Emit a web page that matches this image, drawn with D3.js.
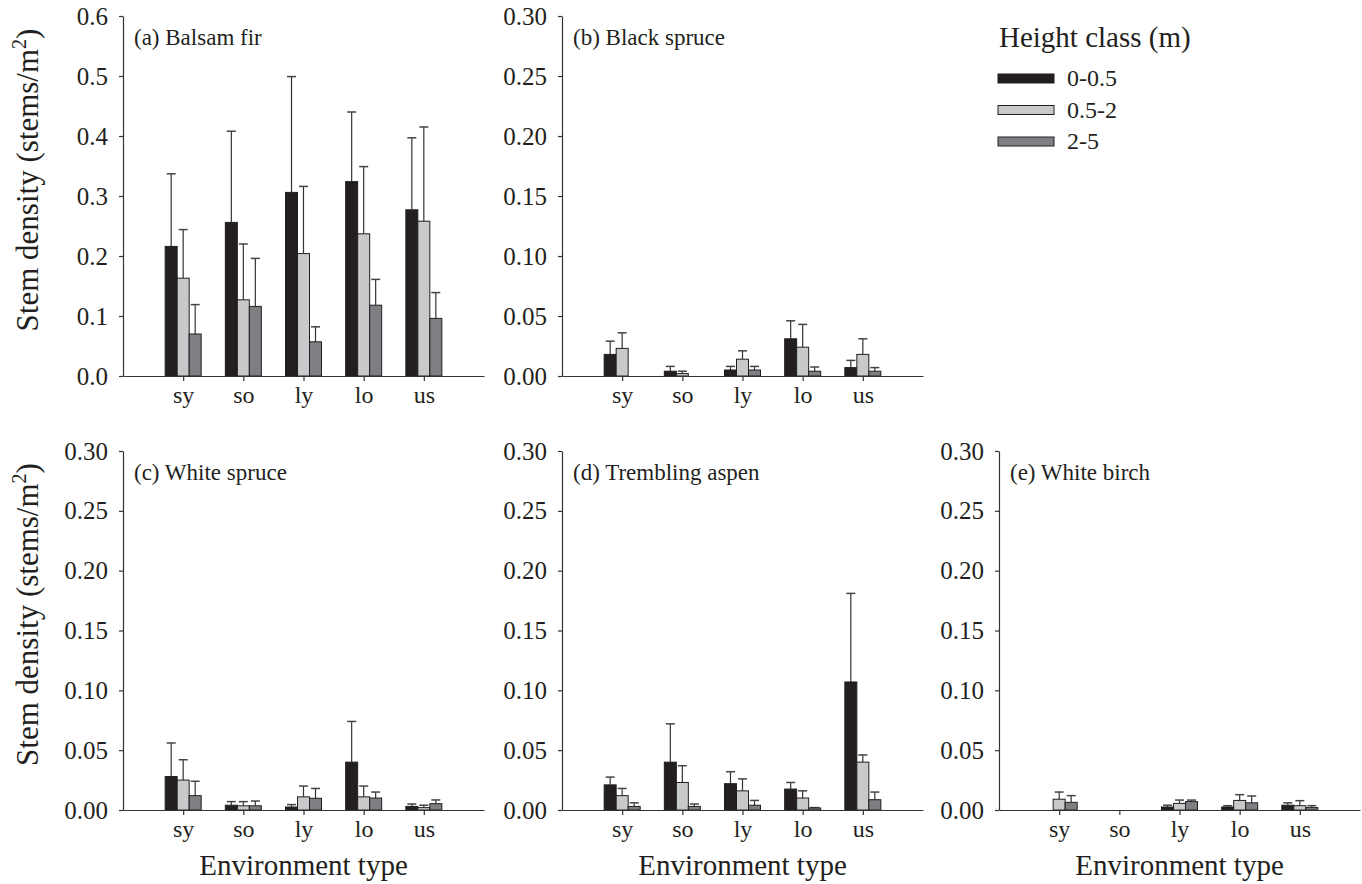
<!DOCTYPE html>
<html lang='en'>
<head>
  <meta charset='UTF-8'>
  <title>Stem density</title>
  <script src="https://d3js.org/d3.v7.min.js"></script>
  <style>
    body { margin: 0; background: #fff; }
    text { font-family: 'Liberation Serif', 'Times New Roman', serif; }
    .axis path, .axis line { stroke: #333; stroke-width: 1.2; }
    .axis text { fill: #231f20; }
  </style>
</head>
<body>
  <div id="chart"></div>
  <script>
    const categories = ['sy', 'so', 'ly', 'lo', 'us'];
    const classes = ['0-0.5', '0.5-2', '2-5'];
    const colors = ['#231f20', '#c8c9cb', '#7e7f83'];
    const FONT = "'Liberation Serif', 'Times New Roman', serif";

    // rows = height class, columns = environment type
    const firMean = [
      [0.216, 0.256, 0.306, 0.324, 0.277],
      [0.163, 0.127, 0.204, 0.237, 0.258],
      [0.070, 0.116, 0.057, 0.118, 0.096]
    ];
    const firUpper = [
      [0.337, 0.408, 0.499, 0.440, 0.397],
      [0.244, 0.220, 0.316, 0.349, 0.415],
      [0.119, 0.196, 0.082, 0.161, 0.139]
    ];
    const blackSpruceMean = [
      [0.018, 0.004, 0.005, 0.031, 0.007],
      [0.023, 0.002, 0.014, 0.024, 0.018],
      [0, 0, 0.005, 0.004, 0.004]
    ];
    const blackSpruceUpper = [
      [0.029, 0.008, 0.008, 0.046, 0.013],
      [0.036, 0.004, 0.021, 0.043, 0.031],
      [0, 0, 0.008, 0.0075, 0.007]
    ];
    const whiteSpruceMean = [
      [0.028, 0.004, 0.0025, 0.040, 0.003],
      [0.025, 0.0035, 0.011, 0.011, 0.002],
      [0.012, 0.0035, 0.0098, 0.010, 0.0053]
    ];
    const whiteSpruceUpper = [
      [0.056, 0.007, 0.0045, 0.074, 0.005],
      [0.042, 0.007, 0.020, 0.020, 0.004],
      [0.024, 0.0075, 0.018, 0.015, 0.0084]
    ];
    const aspenMean = [
      [0.021, 0.040, 0.022, 0.0175, 0.107],
      [0.012, 0.023, 0.016, 0.010, 0.040],
      [0.003, 0.003, 0.004, 0.0017, 0.0086]
    ];
    const aspenUpper = [
      [0.0275, 0.072, 0.032, 0.023, 0.181],
      [0.018, 0.037, 0.026, 0.016, 0.046],
      [0.006, 0.005, 0.008, 0.002, 0.015]
    ];
    const birchMean = [
      [0, 0, 0.0025, 0.0025, 0.004],
      [0.009, 0, 0.0055, 0.008, 0.0036],
      [0.0064, 0, 0.007, 0.006, 0.002]
    ];
    const birchUpper = [
      [0, 0, 0.004, 0.0036, 0.006],
      [0.015, 0, 0.0083, 0.0128, 0.0078],
      [0.012, 0, 0.0083, 0.0117, 0.0036]
    ];
    const firTicks = [0, 0.1, 0.2, 0.3, 0.4, 0.5, 0.6];
    const otherTicks = [0, 0.05, 0.10, 0.15, 0.20, 0.25, 0.30];

    const panels = [
      { label: '(a) Balsam fir', mean: firMean, upper: firUpper, ticks: firTicks, fmt: '.1f', left: 123, top: 16, bottom: 376, yTitle: true, xTitle: false },
      { label: '(b) Black spruce', mean: blackSpruceMean, upper: blackSpruceUpper, ticks: otherTicks, fmt: '.2f', left: 562, top: 16, bottom: 376, yTitle: false, xTitle: false },
      { label: '(c) White spruce', mean: whiteSpruceMean, upper: whiteSpruceUpper, ticks: otherTicks, fmt: '.2f', left: 123, top: 451, bottom: 810, yTitle: true, xTitle: true },
      { label: '(d) Trembling aspen', mean: aspenMean, upper: aspenUpper, ticks: otherTicks, fmt: '.2f', left: 562, top: 451, bottom: 810, yTitle: false, xTitle: true },
      { label: '(e) White birch', mean: birchMean, upper: birchUpper, ticks: otherTicks, fmt: '.2f', left: 999, top: 451, bottom: 810, yTitle: false, xTitle: true }
    ];

    const svg = d3.select('#chart')
      .append('svg')
      .attr('width', 1362)
      .attr('height', 884);

    const axisWidth = 361;
    const barWidth = 12;
    const sub = d3.scaleBand().domain(classes).range([-18, 18]);

    panels.forEach((p) => {
      const g = svg.append('g');

      const x = d3.scaleLinear()
        .domain([0, 6])
        .range([p.left, p.left + axisWidth]);

      const y = d3.scaleLinear()
        .domain([0, d3.max(p.ticks)])
        .range([p.bottom, p.top]);

      // bars + error bars
      p.mean.forEach((row, ci) => {
        row.forEach((v, k) => {
          if (v <= 0) return;
          const cx = x(k + 1) + sub(classes[ci]) + barWidth / 2;
          const up = p.upper[ci][k];
          g.append('line')
            .attr('x1', cx).attr('x2', cx)
            .attr('y1', y(v)).attr('y2', y(up))
            .attr('stroke', '#333')
            .attr('stroke-width', 1.2);
          g.append('line')
            .attr('x1', cx - 4.5).attr('x2', cx + 4.5)
            .attr('y1', y(up)).attr('y2', y(up))
            .attr('stroke', '#444')
            .attr('stroke-width', 1.5);
          g.append('rect')
            .attr('x', cx - barWidth / 2)
            .attr('y', y(v))
            .attr('width', barWidth)
            .attr('height', y(0) - y(v))
            .attr('fill', colors[ci])
            .attr('stroke', '#231f20')
            .attr('stroke-width', 1);
        });
      });

      const yAxis = d3.axisLeft(y)
        .tickValues(p.ticks)
        .tickFormat(d3.format(p.fmt))
        .tickSize(4)
        .tickSizeOuter(0)
        .tickPadding(11);

      g.append('g')
        .attr('class', 'axis')
        .attr('transform', `translate(${p.left}, 0)`)
        .call(yAxis)
        .attr('font-family', FONT)
        .attr('font-size', 25);

      const xAxis = d3.axisBottom(x)
        .tickValues([1, 2, 3, 4, 5])
        .tickFormat((d) => categories[d - 1])
        .tickSize(5)
        .tickSizeOuter(0)
        .tickPadding(5);

      g.append('g')
        .attr('class', 'axis')
        .attr('transform', `translate(0, ${p.bottom})`)
        .call(xAxis)
        .attr('font-family', FONT)
        .attr('font-size', 24);

      g.append('text')
        .attr('x', p.left + 11)
        .attr('y', p.top + 29)
        .attr('font-family', FONT)
        .attr('font-size', 23)
        .attr('fill', '#231f20')
        .text(p.label);

      if (p.yTitle) {
        const t = g.append('text')
          .attr('transform', `translate(38, ${(p.top + p.bottom) / 2 - 16}) rotate(-90)`)
          .attr('text-anchor', 'middle')
          .attr('font-family', FONT)
          .attr('font-size', 31)
          .attr('fill', '#231f20');
        t.append('tspan').text('Stem density (stems/m');
        t.append('tspan').attr('font-size', 20).attr('dy', -12).text('2');
        t.append('tspan').attr('dy', 12).text(')');
      }

      if (p.xTitle) {
        g.append('text')
          .attr('x', p.left + axisWidth / 2)
          .attr('y', 875)
          .attr('text-anchor', 'middle')
          .attr('font-family', FONT)
          .attr('font-size', 29)
          .attr('fill', '#231f20')
          .text('Environment type');
      }
    });

    // legend
    const legend = svg.append('g').attr('font-family', FONT);
    legend.append('text')
      .attr('x', 999)
      .attr('y', 47)
      .attr('font-size', 29)
      .attr('fill', '#231f20')
      .text('Height class (m)');

    classes.forEach((c, i) => {
      legend.append('rect')
        .attr('x', 998)
        .attr('y', 74 + i * 31.5)
        .attr('width', 56)
        .attr('height', 9)
        .attr('fill', colors[i])
        .attr('stroke', '#231f20')
        .attr('stroke-width', 1);
      legend.append('text')
        .attr('x', 1067)
        .attr('y', 86 + i * 31.5)
        .attr('font-size', 24)
        .attr('fill', '#231f20')
        .text(c);
    });
  </script>
</body>
</html>
